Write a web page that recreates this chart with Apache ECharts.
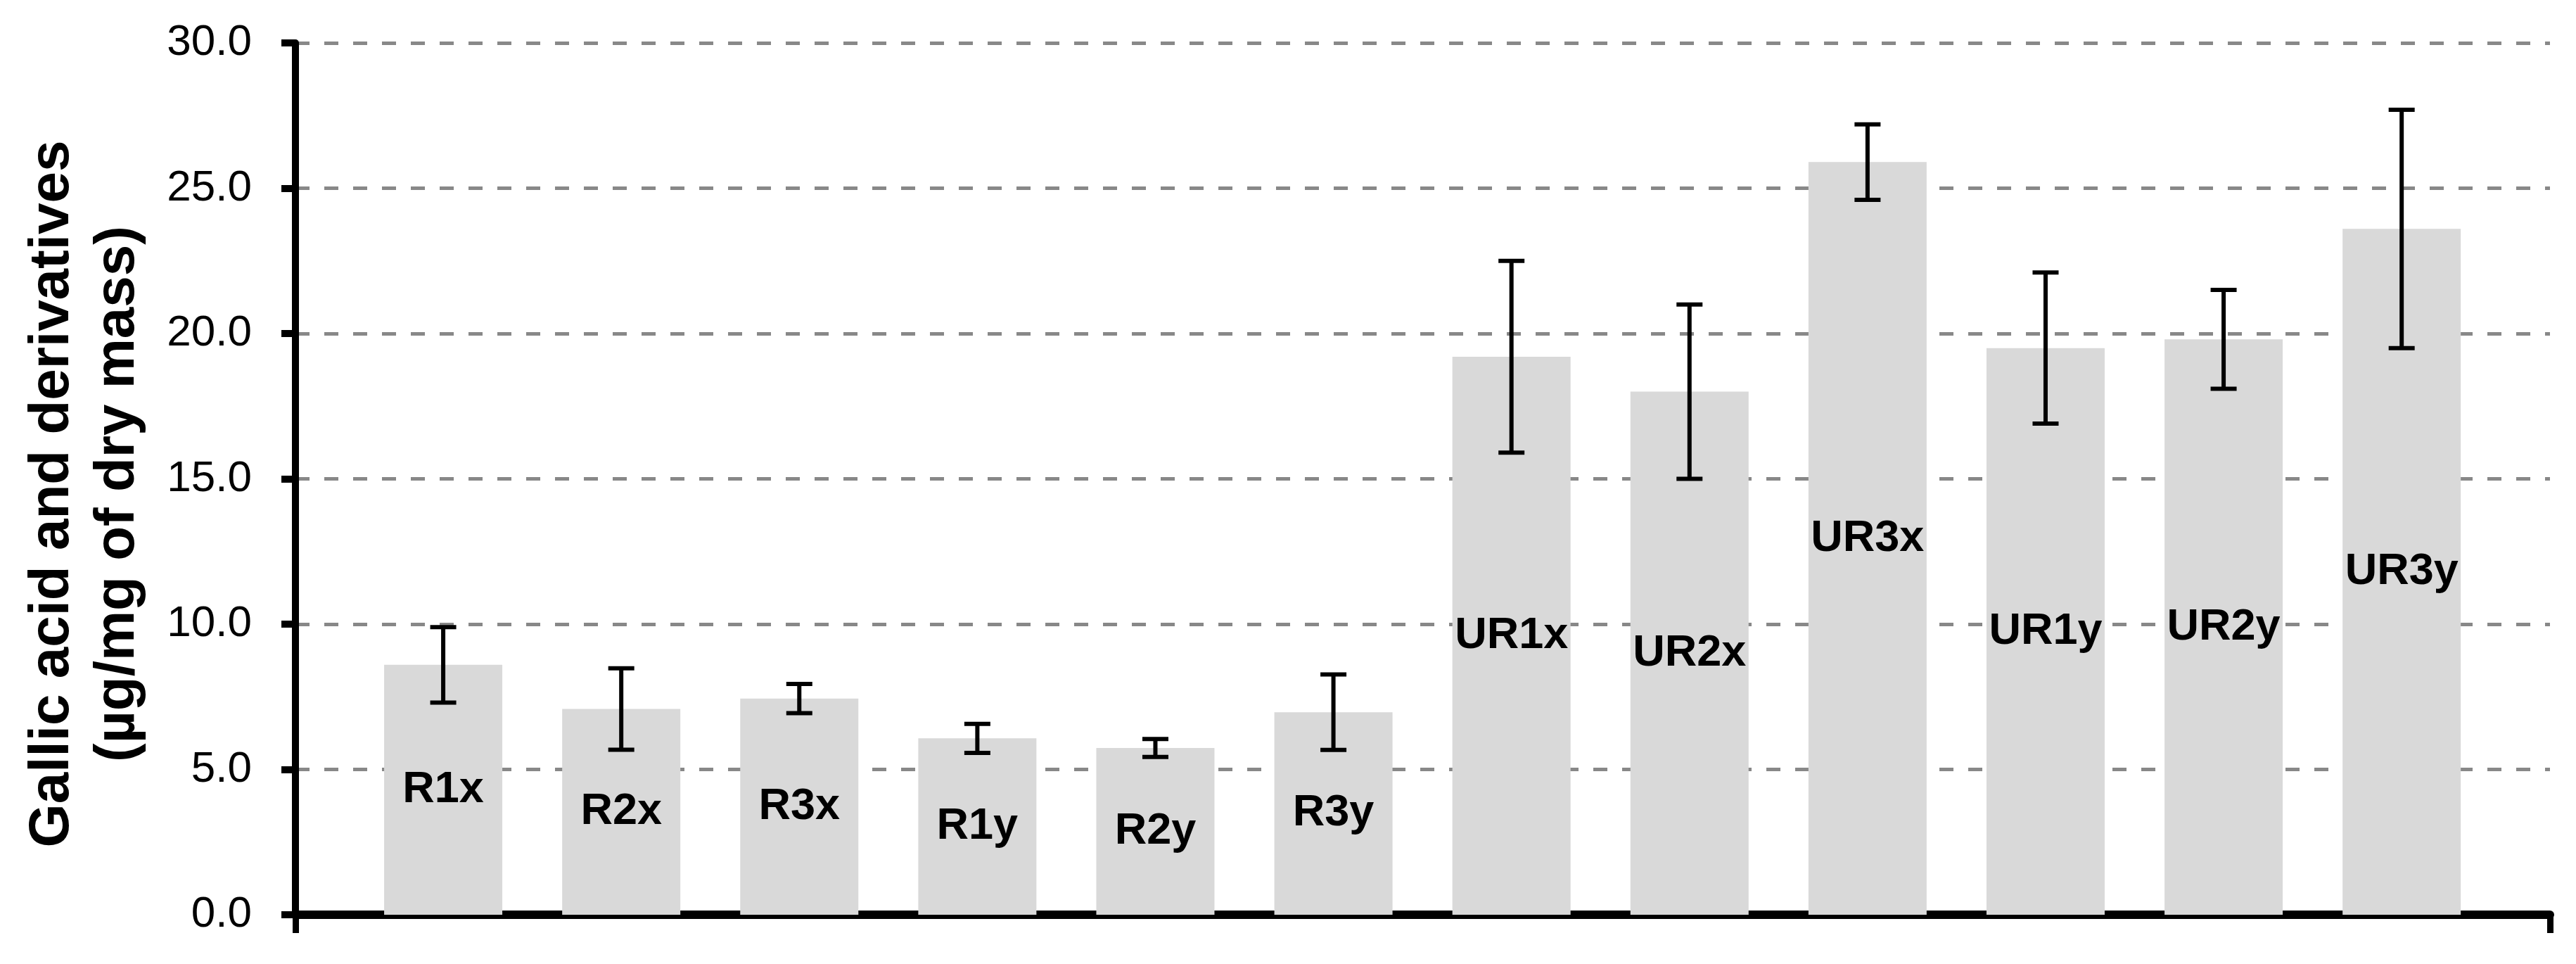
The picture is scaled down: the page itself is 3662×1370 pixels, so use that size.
<!DOCTYPE html>
<html>
<head>
<meta charset="utf-8">
<title>Gallic acid and derivatives</title>
<script src="https://cdn.jsdelivr.net/npm/echarts@6/dist/echarts.min.js"></script>
<style>
  html, body { margin: 0; padding: 0; background: #fff; }
  #chart { width: 3662px; height: 1370px; }
</style>
</head>
<body>
<div id="chart"></div>
<script>
// samples
const categories = ['R1x', 'R2x', 'R3x', 'R1y', 'R2y', 'R3y', 'UR1x', 'UR2x', 'UR3x', 'UR1y', 'UR2y', 'UR3y'];
// mean values (µg/mg of dry mass)
const means = [8.6, 7.08, 7.44, 6.07, 5.74, 6.97, 19.2, 18.0, 25.9, 19.5, 19.8, 23.6];
// standard deviation, shown as error bars
const errors = [1.3, 1.4, 0.5, 0.5, 0.31, 1.3, 3.3, 3.0, 1.3, 2.6, 1.7, 4.1];
// y axis ticks
const yTicks = [0, 5, 10, 15, 20, 25, 30];

// x range leaves a margin on each side of the bars like the original
const xMin = -0.83;
const xMax = 11.833;

let barData = [];
let errData = [];
categories.map((name, i) => {
    barData.push([i, means[i]]);
    errData.push([i, means[i] - errors[i], means[i] + errors[i]]);
});

const chart = echarts.init(document.getElementById('chart'));

const option = {
    backgroundColor: '#fff',
    animation: false,
    grid: {
        left: 420,
        right: 37,
        top: 61,
        bottom: 70
    },
    xAxis: {
        type: 'value',
        min: xMin,
        max: xMax,
        axisLine: {
            show: true,
            onZero: false,
            lineStyle: { color: '#000', width: 12 }
        },
        axisTick: {
            show: true,
            inside: false,
            length: 26,
            customValues: [xMin, xMax],
            lineStyle: { color: '#000', width: 9 }
        },
        axisLabel: { show: false },
        splitLine: { show: false }
    },
    yAxis: {
        type: 'value',
        min: yTicks[0],
        max: yTicks[yTicks.length - 1],
        interval: 5,
        axisLine: {
            show: true,
            onZero: false,
            lineStyle: { color: '#000', width: 10 }
        },
        axisTick: {
            show: true,
            length: 20,
            lineStyle: { color: '#000', width: 10 }
        },
        axisLabel: {
            margin: 62,
            fontSize: 62,
            fontFamily: '"Liberation Sans", Arial, sans-serif',
            color: '#000',
            formatter: v => v.toFixed(1)
        },
        splitLine: {
            show: true,
            showMinLine: false,
            lineStyle: { color: '#888', width: 5, type: [20, 21] }
        }
    },
    graphic: [
        {
            type: 'text',
            x: 121,
            y: 702,
            rotation: Math.PI / 2,
            style: {
                text: 'Gallic acid and derivatives\n(µg/mg of dry mass)',
                fontSize: 80,
                fontWeight: 'bold',
                fontFamily: '"Liberation Sans", Arial, sans-serif',
                lineHeight: 93,
                align: 'center',
                verticalAlign: 'middle',
                fill: '#000'
            }
        }
    ],
    series: [
        {
            name: 'mean',
            type: 'bar',
            barWidth: 168,
            data: barData,
            itemStyle: { color: '#d9d9d9' },
            label: {
                show: true,
                position: 'inside',
                fontSize: 63,
                fontWeight: 'bold',
                fontFamily: '"Liberation Sans", Arial, sans-serif',
                color: '#000',
                formatter: p => categories[p.dataIndex]
            },
            z: 2
        },
        {
            name: 'error',
            type: 'custom',
            data: errData,
            z: 3,
            renderItem: function (params, api) {
                const x = api.value(0);
                const low = api.coord([x, api.value(1)]);
                const high = api.coord([x, api.value(2)]);
                const half = 18.5;
                const style = { stroke: '#000', lineWidth: 6 };
                return {
                    type: 'group',
                    children: [
                        { type: 'line', shape: { x1: high[0], y1: high[1], x2: low[0], y2: low[1] }, style: style },
                        { type: 'line', shape: { x1: high[0] - half, y1: high[1], x2: high[0] + half, y2: high[1] }, style: style },
                        { type: 'line', shape: { x1: low[0] - half, y1: low[1], x2: low[0] + half, y2: low[1] }, style: style }
                    ]
                };
            }
        }
    ]
};

chart.setOption(option);

window.addEventListener('resize', function () {
    chart.resize();
});
</script>
</body>
</html>
